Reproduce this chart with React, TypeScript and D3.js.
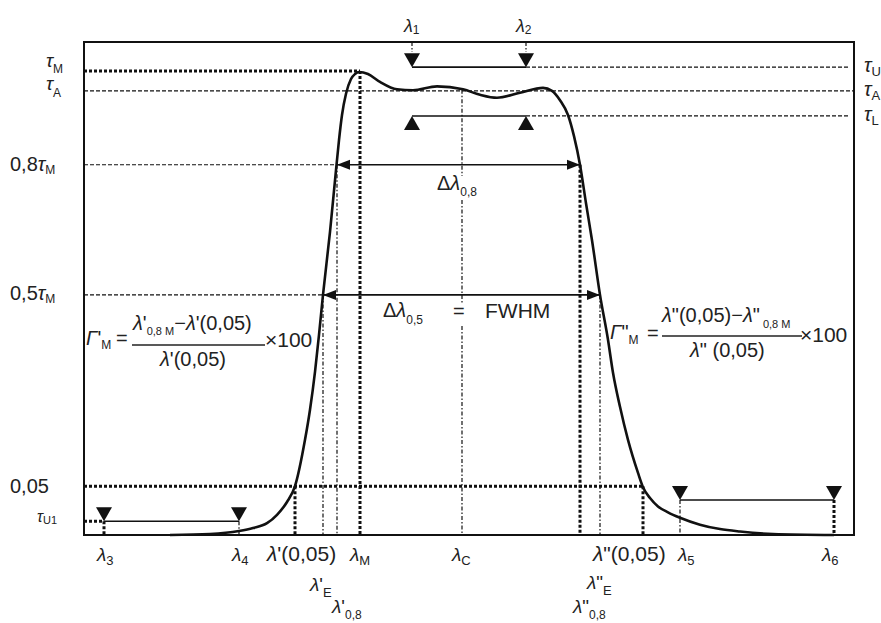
import React from "react";
import * as d3 from "d3";

// ---------- data (relative wavelength units 0..770, transmittance 0..1) ----------
const curveLambda = [
  86, 126, 155, 169, 183, 193, 203, 211, 221, 226,
  231, 235, 239, 246, 252, 255, 258, 262, 267, 271,
  275, 284, 296, 313, 329, 353, 379, 396, 413, 436,
  459, 468, 476, 484, 490, 496, 502, 508, 516, 524,
  529, 536, 544, 554, 559, 566, 574, 584, 596, 616,
  636, 656, 689, 750,
];
const curveTau = [
  0, 0.002, 0.008, 0.014, 0.024, 0.041, 0.067, 0.099, 0.193, 0.254,
  0.331, 0.406, 0.487, 0.615, 0.74, 0.801, 0.852, 0.895, 0.925, 0.935,
  0.939, 0.935, 0.919, 0.904, 0.902, 0.91, 0.904, 0.893, 0.887, 0.897,
  0.907, 0.901, 0.882, 0.852, 0.809, 0.751, 0.673, 0.598, 0.487, 0.396,
  0.329, 0.26, 0.193, 0.126, 0.097, 0.075, 0.058, 0.046, 0.035, 0.021,
  0.012, 0.007, 0.002, 0,
];

// characteristic wavelengths
const lam = {
  l3: 20, l4: 155, p005: 211, pE: 239, p08: 253, M: 276,
  l1: 328, C: 378, l2: 442, pp08: 496, ppE: 516, pp005: 559, l5: 596, l6: 750,
};
// characteristic transmittance levels
const tauLevels = {
  U: 0.949, M: 0.941, A: 0.901, L: 0.85, p8: 0.751, p5: 0.487, p05: 0.099, U2: 0.071, U1: 0.028,
};
const lamMax = 770;

const W = 881, H = 623;
const x = d3.scaleLinear().domain([0, lamMax]).range([84, 854]);
const y = d3.scaleLinear().domain([0, 1]).range([535, 42]);

const INK = "#111";
const TXT = "#222";
const FONT = "'Liberation Sans', Arial, Helvetica, sans-serif";
const bold = { stroke: INK, strokeWidth: 3, strokeDasharray: "3 2", fill: "none" };
const thin = { stroke: INK, strokeWidth: 1.2, strokeDasharray: "4 2", fill: "none" };
const dashDot = { stroke: INK, strokeWidth: 1.2, strokeDasharray: "4 2 1.5 2", fill: "none" };
const solid = { stroke: INK, strokeWidth: 1.6, fill: "none" };

type P = [string, string?];
function Lbl({ x, y, parts, size = 20, sub = 12, dy = 5, anchor = "start" }:
  { x: number; y: number; parts: P[]; size?: number; sub?: number; dy?: number; anchor?: string }) {
  let shifted = false;
  return (
    <text x={x} y={y} fontSize={size} textAnchor={anchor as any} fill={TXT} fontFamily={FONT}>
      {parts.map((p, i) => {
        const f = p[1] || "";
        const isSub = f.includes("s");
        let d = 0;
        if (isSub && !shifted) { d = dy; shifted = true; }
        else if (!isSub && shifted) { d = -dy; shifted = false; }
        return (
          <tspan key={i} dy={d || undefined} fontSize={isSub ? sub : undefined}
            fontStyle={f.includes("i") ? "italic" : undefined}>{p[0]}</tspan>
        );
      })}
    </text>
  );
}

function hLine(l0: number, l1: number, t: number, style: any, key: string) {
  return <line key={key} x1={x(l0)} x2={x(l1)} y1={y(t)} y2={y(t)} {...style} />;
}
function vLine(l: number, t0: number, t1: number, style: any, key: string) {
  return <line key={key} x1={x(l)} x2={x(l)} y1={y(t0)} y2={y(t1)} {...style} />;
}
// triangle with tip at (l, t); dir = 1 pointing down, -1 pointing up
function tri(l: number, t: number, dir: number, key: string) {
  const cx = x(l), cy = y(t), w = 8, h = 14;
  return <path key={key} d={`M${cx},${cy} L${cx - w},${cy - dir * h} L${cx + w},${cy - dir * h} Z`} fill={INK} />;
}
// horizontal arrowhead tip at (l,t), dir = -1 points left, 1 points right
function arrowHead(l: number, t: number, dir: number, key: string) {
  const cx = x(l), cy = y(t), len = 13, hw = 5;
  return <path key={key} d={`M${cx},${cy} L${cx - dir * len},${cy - hw} L${cx - dir * len},${cy + hw} Z`} fill={INK} />;
}

export default function App() {
  const line = d3.line<number>()
    .x((_, i) => x(curveLambda[i]))
    .y((t) => y(t))
    .curve(d3.curveMonotoneX);
  const path = line(curveTau) || "";

  return (
    <svg width={W} height={H} style={{ position: "absolute", left: 0, top: 0, background: "#fff" }}>
      <rect x={0} y={0} width={W} height={H} fill="#fff" />
      {/* frame */}
      <rect x={x(0)} y={y(1)} width={x(lamMax) - x(0)} height={y(0) - y(1)} fill="none" stroke={INK} strokeWidth={2} />

      {/* horizontal reference lines */}
      {hLine(0, lam.M, tauLevels.M, bold, "hM")}
      {hLine(0, lamMax, tauLevels.A, thin, "hA")}
      {hLine(lam.l2, lamMax - 5, tauLevels.U, thin, "hU")}
      {hLine(lam.l2, lamMax - 5, tauLevels.L, thin, "hL")}
      {hLine(0, lam.p08, tauLevels.p8, thin, "h8")}
      {hLine(0, lam.pE, tauLevels.p5, thin, "h5")}
      {hLine(0, lam.pp005, tauLevels.p05, bold, "h05")}
      {hLine(0, lam.l3, tauLevels.U1, bold, "hU1")}

      {/* vertical reference lines */}
      {vLine(lam.p005, tauLevels.p05, 0, bold, "v1")}
      {vLine(lam.pE, tauLevels.p5, 0, dashDot, "v2")}
      {vLine(lam.p08, tauLevels.p8, 0, dashDot, "v3")}
      {vLine(lam.M, tauLevels.M, 0, bold, "v4")}
      {vLine(lam.pp08, tauLevels.p8, 0, bold, "v5")}
      {vLine(lam.ppE, tauLevels.p5, 0, dashDot, "v6")}
      {vLine(lam.pp005, tauLevels.p05, 0, bold, "v7")}
      {vLine(lam.l3, tauLevels.U1, 0, bold, "v8")}
      {vLine(lam.l4, tauLevels.U1, 0, dashDot, "v9")}
      {vLine(lam.l5, tauLevels.U2, 0, dashDot, "v10")}
      {vLine(lam.l6, tauLevels.U2, 0, bold, "v11")}
      {vLine(lam.l1, 1, y.invert(52), dashDot, "v12")}
      {vLine(lam.l2, 1, y.invert(52), dashDot, "v13")}
      {/* λC with gaps for labels */}
      <line x1={x(lam.C)} x2={x(lam.C)} y1={y(0.903)} y2={176} {...dashDot} />
      <line x1={x(lam.C)} x2={x(lam.C)} y1={200} y2={304} {...dashDot} />
      <line x1={x(lam.C)} x2={x(lam.C)} y1={326} y2={y(0)} {...dashDot} />

      {/* solid tolerance lines */}
      {hLine(lam.l1, lam.l2, tauLevels.U, solid, "sU")}
      {hLine(lam.l1, lam.l2, tauLevels.L, solid, "sL")}
      {hLine(lam.l3, lam.l4, tauLevels.U1, solid, "sU1")}
      {hLine(lam.l5, lam.l6, tauLevels.U2, solid, "sU2")}

      {/* width arrows */}
      {hLine(lam.p08, lam.pp08, tauLevels.p8, solid, "a8")}
      {hLine(lam.pE, lam.ppE, tauLevels.p5, solid, "a5")}
      {arrowHead(lam.p08, tauLevels.p8, -1, "ah1")}
      {arrowHead(lam.pp08, tauLevels.p8, 1, "ah2")}
      {arrowHead(lam.pE, tauLevels.p5, -1, "ah3")}
      {arrowHead(lam.ppE, tauLevels.p5, 1, "ah4")}

      {/* curve */}
      <path d={path} fill="none" stroke={INK} strokeWidth={2.6} />

      {/* triangles */}
      {tri(lam.l1, tauLevels.U, 1, "t1")}
      {tri(lam.l2, tauLevels.U, 1, "t2")}
      {tri(lam.l1, tauLevels.L, -1, "t3")}
      {tri(lam.l2, tauLevels.L, -1, "t4")}
      {tri(lam.l3, tauLevels.U1, 1, "t5")}
      {tri(lam.l4, tauLevels.U1, 1, "t6")}
      {tri(lam.l5, tauLevels.U2, 1, "t7")}
      {tri(lam.l6, tauLevels.U2, 1, "t8")}

      {/* left level labels */}
      <Lbl x={46} y={67} size={19} sub={12} dy={6} parts={[["τ", "i"], ["M", "s"]]} />
      <Lbl x={46} y={90} size={19} sub={12} dy={7} parts={[["τ", "i"], ["A", "s"]]} />
      <Lbl x={10} y={171} size={20} sub={12} dy={3} parts={[["0,8"], ["τ", "i"], ["M", "s"]]} />
      <Lbl x={10} y={300} size={20} sub={12} dy={3} parts={[["0,5"], ["τ", "i"], ["M", "s"]]} />
      <Lbl x={10} y={493} size={20} parts={[["0,05"]]} />
      <Lbl x={37} y={522} size={16} sub={11} dy={2} parts={[["τ", "i"], ["U1", "s"]]} />

      {/* right level labels */}
      <Lbl x={864} y={72} size={20} sub={13} dy={4} parts={[["τ", "i"], ["U", "s"]]} />
      <Lbl x={864} y={96} size={20} sub={13} dy={4} parts={[["τ", "i"], ["A", "s"]]} />
      <Lbl x={864} y={121} size={20} sub={13} dy={4} parts={[["τ", "i"], ["L", "s"]]} />

      {/* top labels */}
      <Lbl x={x(lam.l1) - 8} y={32} size={18} sub={12} dy={2} parts={[["λ", "i"], ["1", "s"]]} />
      <Lbl x={x(lam.l2) - 10} y={32} size={18} sub={12} dy={2} parts={[["λ", "i"], ["2", "s"]]} />

      {/* bottom labels */}
      <Lbl x={x(lam.l3) - 7} y={561} size={19} sub={13} dy={4} parts={[["λ", "i"], ["3", "s"]]} />
      <Lbl x={x(lam.l4) - 7} y={561} size={19} sub={13} dy={4} parts={[["λ", "i"], ["4", "s"]]} />
      <Lbl x={267} y={561} size={21} parts={[["λ", "i"], ["'(0,05)"]]} />
      <Lbl x={x(lam.M) - 10} y={561} size={19} sub={13} dy={4} parts={[["λ", "i"], ["M", "s"]]} />
      <Lbl x={x(lam.C) - 10} y={561} size={19} sub={13} dy={4} parts={[["λ", "i"], ["C", "s"]]} />
      <Lbl x={593} y={561} size={21} parts={[["λ", "i"], ["\"(0,05)"]]} />
      <Lbl x={x(lam.l5) - 2} y={561} size={19} sub={13} dy={4} parts={[["λ", "i"], ["5", "s"]]} />
      <Lbl x={x(lam.l6) - 12} y={561} size={19} sub={13} dy={4} parts={[["λ", "i"], ["6", "s"]]} />
      <Lbl x={x(lam.pE) - 13} y={591} size={19} sub={13} dy={6} parts={[["λ", "i"], ["'"], ["E", "s"]]} />
      <Lbl x={x(lam.ppE) - 13} y={589} size={19} sub={13} dy={6} parts={[["λ", "i"], ["\""], ["E", "s"]]} />
      <Lbl x={x(lam.p08) - 5} y={613} size={19} sub={12} dy={6} parts={[["λ", "i"], ["'"], ["0,8", "s"]]} />
      <Lbl x={x(lam.pp08) - 7} y={613} size={19} sub={12} dy={6} parts={[["λ", "i"], ["\""], ["0,8", "s"]]} />

      {/* width labels */}
      <Lbl x={437} y={190} size={20} sub={12} dy={6} parts={[["Δ"], ["λ", "i"], ["0,8", "s"]]} />
      <Lbl x={383} y={317} size={20} sub={12} dy={7} parts={[["Δ"], ["λ", "i"], ["0,5", "s"]]} />
      <Lbl x={453} y={318} size={20} parts={[["="]]} />
      <Lbl x={485} y={318} size={21} parts={[["FWHM"]]} />

      {/* left formula */}
      <Lbl x={86} y={345} size={20} sub={12} dy={4} parts={[["Γ", "i"], ["'"], ["M", "s"]]} />
      <Lbl x={116} y={345} size={20} parts={[["="]]} />
      <Lbl x={133} y={330} size={20} sub={11} dy={5} parts={[["λ", "i"], ["'"], ["0,8 M", "s"], ["−"], ["λ", "i"], ["'(0,05)"]]} />
      <line x1={132} x2={265} y1={345} y2={345} stroke={TXT} strokeWidth={1.3} />
      <Lbl x={160} y={366} size={20} parts={[["λ", "i"], ["'(0,05)"]]} />
      <Lbl x={265} y={347} size={21} parts={[["×100"]]} />

      {/* right formula */}
      <Lbl x={610} y={339} size={20} sub={12} dy={5} parts={[["Γ", "i"], ["\""], ["M", "s"]]} />
      <Lbl x={647} y={340} size={20} parts={[["="]]} />
      <Lbl x={662} y={322} size={20} sub={11} dy={6} parts={[["λ", "i"], ["\"(0,05)−"], ["λ", "i"], ["\""], [" 0,8 M", "s"]]} />
      <line x1={662} x2={802} y1={336} y2={336} stroke={TXT} strokeWidth={1.3} />
      <Lbl x={690} y={357} size={20} parts={[["λ", "i"], ["\" (0,05)"]]} />
      <Lbl x={800} y={342} size={21} parts={[["×100"]]} />
    </svg>
  );
}
